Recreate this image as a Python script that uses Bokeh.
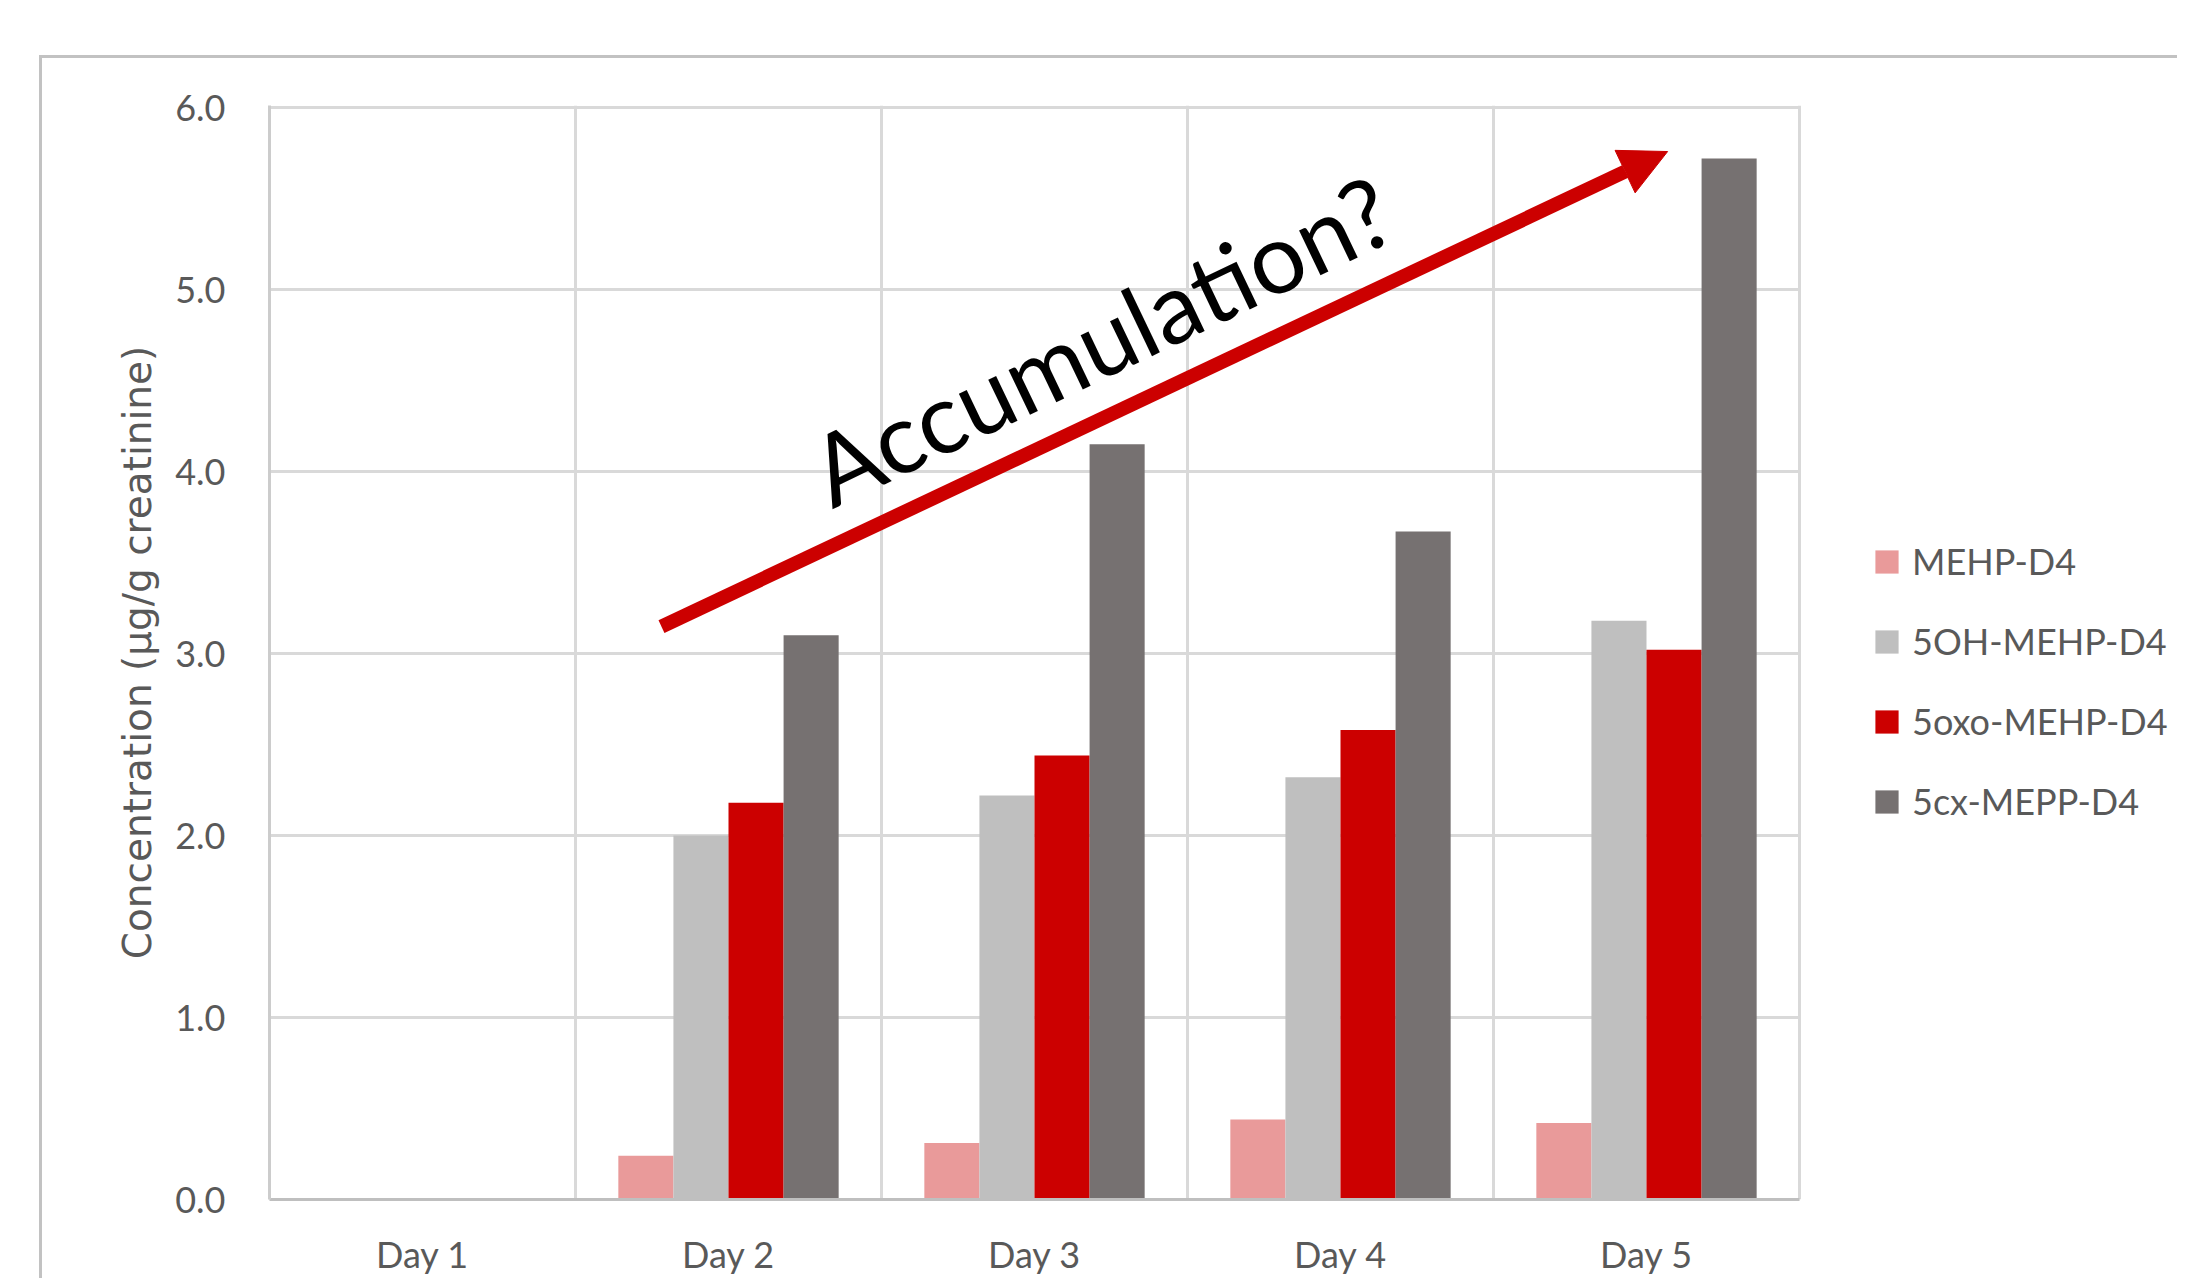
import numpy as np
from bokeh.plotting import figure
from bokeh.models import (Range1d, FixedTicker, PrintfTickFormatter, Legend, LegendItem,
                          Arrow, NormalHead, Label)
from bokeh.embed import file_html
from bokeh.resources import INLINE

# ---- data ----
days = ["Day 1", "Day 2", "Day 3", "Day 4", "Day 5"]
series_names = ["MEHP-D4", "5OH-MEHP-D4", "5oxo-MEHP-D4", "5cx-MEPP-D4"]
mehp_d4 = [0.0, 0.24, 0.31, 0.44, 0.42]
oh_mehp_d4 = [0.0, 2.00, 2.22, 2.32, 3.18]
oxo_mehp_d4 = [0.0, 2.18, 2.44, 2.58, 3.02]
cx_mepp_d4 = [0.0, 3.10, 4.15, 3.67, 5.72]
y_ticks = [0, 1, 2, 3, 4, 5, 6]
annotation_text = "Accumulation?"

series_values = [mehp_d4, oh_mehp_d4, oxo_mehp_d4, cx_mepp_d4]
colors = ["#E99A9A", "#BFBFBF", "#CC0000", "#767171"]

FONT = "Lato"
TXT = "#595959"
GRID = "#D9D9D9"
PX_PER_DAY = 306          # plot-area width per category
PLOT_W = PX_PER_DAY * len(days)
LEGEND_AREA = 378
FRAME_W = PLOT_W + LEGEND_AREA
FRAME_H = 1094
Y_TOP = 6 + 2 / 182.0

p = figure(frame_width=FRAME_W, frame_height=FRAME_H, output_backend="svg", toolbar_location=None,
           x_range=Range1d(0, FRAME_W / PX_PER_DAY), y_range=Range1d(0, Y_TOP),
           min_border_left=227, min_border_right=0, min_border_top=47, min_border_bottom=78)
p.styles = {"border-top": "3px solid #C2C2C2", "border-left": "3px solid #C2C2C2",
            "margin-left": "39px", "margin-top": "55px"}
p.outline_line_color = None
p.background_fill_color = "white"
p.border_fill_color = "white"

# vertical grid lines at category boundaries
p.xgrid.ticker = FixedTicker(ticks=list(range(len(days) + 1)))
p.xgrid.grid_line_color = GRID
p.xgrid.grid_line_width = 3
# horizontal grid lines limited to the plot area
p.ygrid.grid_line_color = None
p.segment(x0=[0] * len(y_ticks), x1=[len(days)] * len(y_ticks), y0=y_ticks, y1=y_ticks,
          line_color=GRID, line_width=3, level="underlay")

# x axis
centers = np.arange(len(days)) + 0.5
p.xaxis.bounds = (0, len(days))
p.xaxis.ticker = FixedTicker(ticks=list(centers))
p.xaxis.major_label_overrides = {float(c): d for c, d in zip(centers, days)}
p.xaxis.axis_line_color = "#BFBFBF"
p.xaxis.axis_line_width = 3
p.xaxis.major_tick_line_color = None
p.xaxis.minor_tick_line_color = None
p.xaxis.major_label_standoff = 26
p.xaxis.major_label_text_font = FONT
p.xaxis.major_label_text_font_size = "36px"
p.xaxis.major_label_text_color = TXT

# y axis
p.yaxis.ticker = FixedTicker(ticks=y_ticks)
p.yaxis.formatter = PrintfTickFormatter(format="%.1f")
p.yaxis.axis_line_color = "#CCCCCC"
p.yaxis.axis_line_width = 3
p.yaxis.major_tick_line_color = None
p.yaxis.minor_tick_line_color = None
p.yaxis.major_label_standoff = 38
p.yaxis.major_label_text_font = FONT
p.yaxis.major_label_text_font_size = "36px"
p.yaxis.major_label_text_color = TXT
p.yaxis.axis_label = "Concentration (µg/g creatinine)"
p.yaxis.axis_label_text_font = "DejaVu Sans"
p.yaxis.axis_label_text_font_size = "39px"
p.yaxis.axis_label_text_font_style = "normal"
p.yaxis.axis_label_text_color = TXT
p.yaxis.axis_label_standoff = 12

# bars
bw = 0.18
n = len(series_names)
items = []
for k, (name, vals, col) in enumerate(zip(series_names, series_values, colors)):
    off = (k - (n - 1) / 2) * bw
    r = p.vbar(x=centers + off, top=vals, width=bw, bottom=0,
               fill_color=col, line_color=None)
    items.append(LegendItem(label=name, renderers=[r]))

legend = Legend(items=items, location=(PLOT_W + 73, 376), glyph_width=29, glyph_height=29,
                label_text_font=FONT, label_text_font_size="36px", label_text_color=TXT,
                label_standoff=11, spacing=36, padding=0, margin=0,
                border_line_color=None, background_fill_alpha=0, label_height=23)
p.add_layout(legend, "center")

# annotation arrow + text
arrow_start = (1.281, 3.148)
arrow_end = (4.569, 5.758)
p.add_layout(Arrow(end=NormalHead(size=47, fill_color="#CC0000", line_color="#CC0000", line_width=1),
                   x_start=arrow_start[0], y_start=arrow_start[1],
                   x_end=arrow_end[0], y_end=arrow_end[1],
                   line_color="#CC0000", line_width=14))
p.add_layout(Label(x=1.785, y=3.98, text=annotation_text, angle=25.6, angle_units="deg",
                   text_font=FONT, text_font_size="98px", text_color="black",
                   text_align="left", text_baseline="alphabetic"))

open("out.html", "w").write(file_html(p, INLINE))
